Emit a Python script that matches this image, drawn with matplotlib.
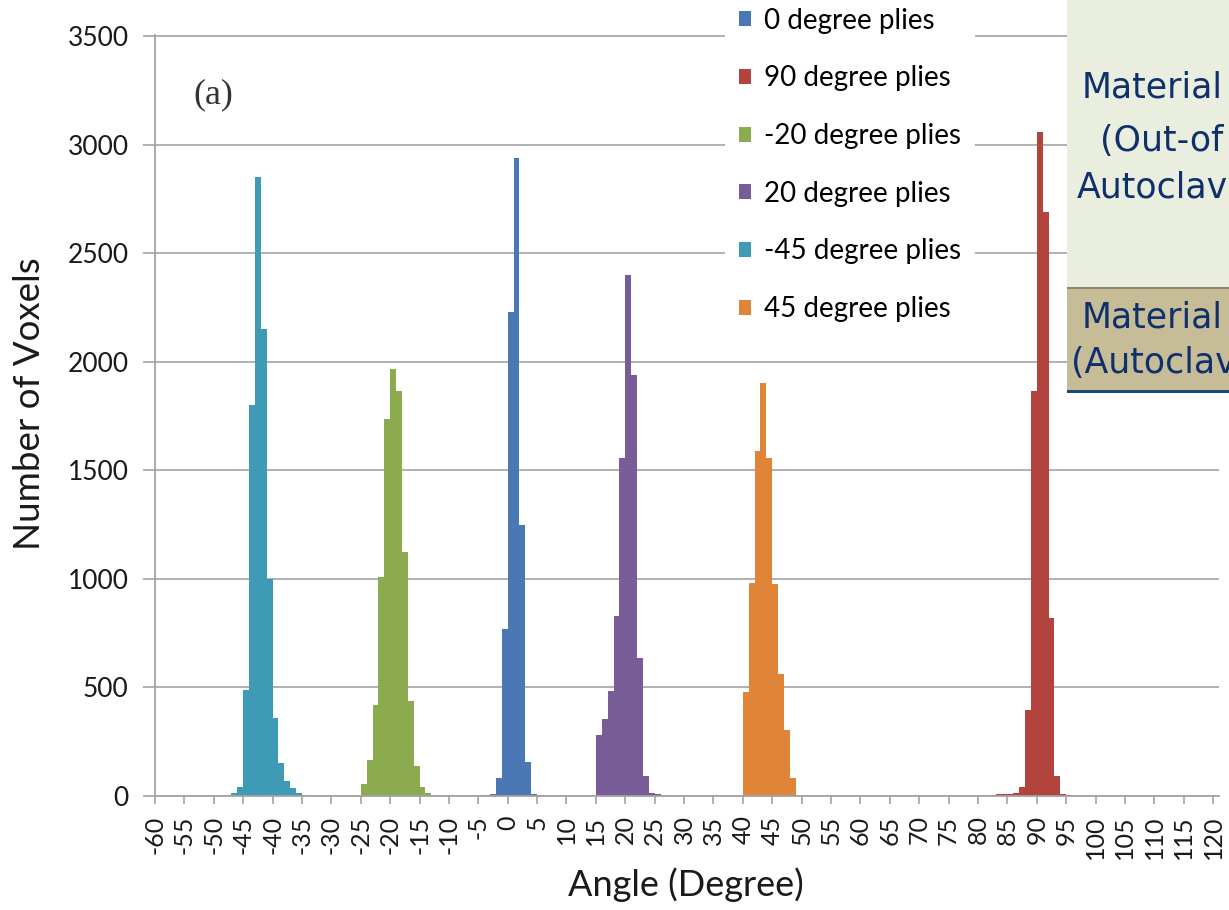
import matplotlib
matplotlib.use("Agg")
import matplotlib.pyplot as plt
from matplotlib.patches import Rectangle

# fibre orientation histograms, one bar per 1 degree bin (left edge, voxel count)
bins_0 = list(range(-5, 6))
counts_0 = [5, 5, 8, 85, 767, 2230, 2940, 1250, 155, 10, 5]

bins_90 = list(range(82, 96))
counts_90 = [5, 8, 10, 10, 12, 40, 397, 1867, 3058, 2689, 820, 90, 10, 5]

bins_m20 = list(range(-25, -12))
counts_m20 = [54, 168, 420, 1010, 1736, 1966, 1867, 1124, 436, 138, 41, 15, 5]

bins_20 = list(range(15, 27))
counts_20 = [280, 353, 483, 830, 1556, 2398, 1941, 636, 93, 13, 10, 5]

bins_m45 = list(range(-48, -34))
counts_m45 = [5, 15, 40, 490, 1800, 2850, 2150, 1000, 360, 150, 70, 35, 12, 4]

bins_45 = list(range(40, 49))
counts_45 = [479, 983, 1590, 1900, 1556, 975, 563, 303, 84]

series = [
    ("0 degree plies", bins_0, counts_0, "#4a78b5"),
    ("90 degree plies", bins_90, counts_90, "#b2433f"),
    ("-20 degree plies", bins_m20, counts_m20, "#8cab4f"),
    ("20 degree plies", bins_20, counts_20, "#775c98"),
    ("-45 degree plies", bins_m45, counts_m45, "#3f9ab5"),
    ("45 degree plies", bins_45, counts_45, "#e08538"),
]

x_ticks = list(range(-60, 121, 5))
y_ticks = list(range(0, 3501, 500))

W, H = 1229, 910
fig = plt.figure(figsize=(W / 100, H / 100), dpi=100)
ax = fig.add_axes([155 / W, 114 / H, 1064 / W, 761 / H])

for name, b, c, col in series:
    ax.bar(b, c, width=1.0, align="edge", color=col, linewidth=0, label=name)

ax.set_xlim(-60, 121)
ax.set_ylim(0, 3505)
ax.set_xticks(x_ticks)
ax.set_xticklabels([str(t) for t in x_ticks], rotation=90, family="Lato", fontsize=18)
ax.set_yticks(y_ticks)
ax.set_yticklabels([str(t) for t in y_ticks], family="Lato", fontsize=19)

grey = "#a3a3a3"
ax.yaxis.grid(True, color=grey, linewidth=1.2)
ax.set_axisbelow(True)
for s in ("top", "right"):
    ax.spines[s].set_visible(False)
for s in ("left", "bottom"):
    ax.spines[s].set_color(grey)
    ax.spines[s].set_linewidth(1.3)
ax.tick_params(axis="y", direction="out", length=9, width=1.2, color=grey, pad=10, labelcolor="#1a1a1a")
ax.tick_params(axis="x", direction="out", length=6, width=1.2, color=grey, pad=8, labelcolor="#1a1a1a")

ax.set_ylabel("Number of Voxels", family="Lato", fontsize=26.5, color="#1a1a1a", va="center")
ax.yaxis.set_label_coords(-0.1175, 0.516)
ax.set_xlabel("Angle (Degree)", family="Lato", fontsize=26, color="#1a1a1a", va="center")
ax.xaxis.set_label_coords(0.499, -0.117)

ax.text(0.0545, 0.921, "(a)", transform=ax.transAxes, family="Liberation Serif",
        fontsize=26, color="#333333", ha="center", va="center")

fig.legend(loc="upper left", bbox_to_anchor=(725 / W, 1.0067), frameon=True, facecolor="white",
           edgecolor="none", framealpha=1, fancybox=False, prop={"family": "Lato", "size": 20},
           handlelength=0.45, handleheight=0.45, handletextpad=0.45, labelspacing=1.14,
           borderpad=0.5, borderaxespad=0)

# slide boxes on the right side
fig.add_artist(Rectangle((1067 / W, 1 - 287 / H), 1, 287 / H, transform=fig.transFigure,
                         facecolor="#eaeedf", edgecolor="none", zorder=2))
fig.add_artist(Rectangle((1067 / W, 1 - 390 / H), 1, 103 / H, transform=fig.transFigure,
                         facecolor="#c6bd98", edgecolor="none", zorder=2))
fig.add_artist(Rectangle((1067 / W, 1 - 289 / H), 1, 2 / H, transform=fig.transFigure,
                         facecolor="#8f8565", edgecolor="none", zorder=2))
fig.add_artist(Rectangle((1067 / W, 1 - 393 / H), 1, 3 / H, transform=fig.transFigure,
                         facecolor="#1c4a78", edgecolor="none", zorder=2))

navy = "#10306b"
for txt, x, y in [("Material", 1082, 97), ("(Out-of", 1100, 151), ("Autoclav", 1077, 198),
                  ("Material", 1082, 328), ("(Autoclav", 1071, 373)]:
    fig.text(x / W, 1 - y / H, txt, family="DejaVu Sans", fontsize=25, color=navy,
             ha="left", va="baseline", zorder=3)

fig.savefig("out.png", dpi=100)
